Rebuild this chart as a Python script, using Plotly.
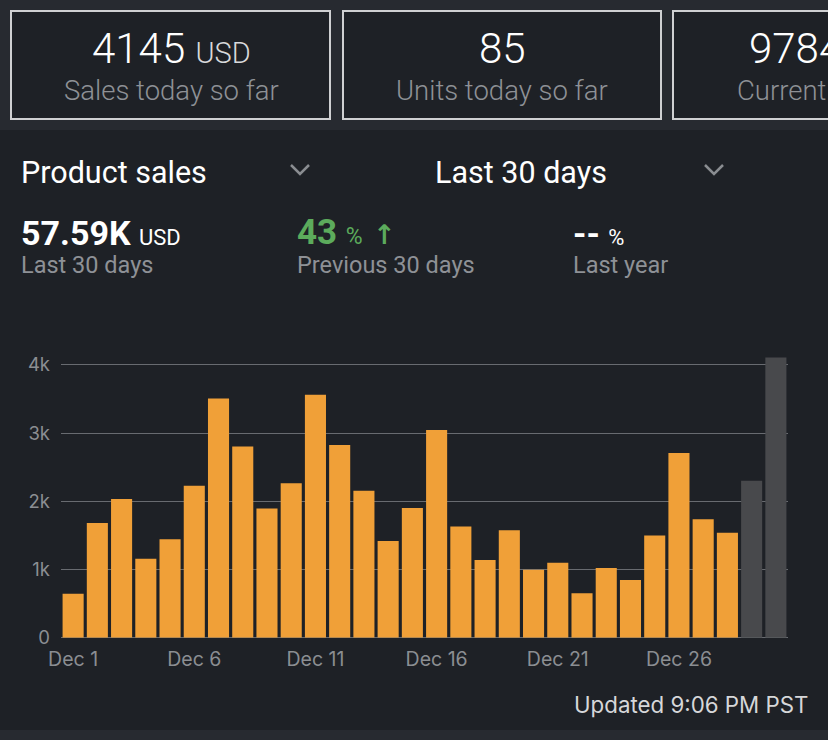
import plotly.graph_objects as go

W, H = 828, 740

days = [f"Dec {d}" for d in range(1, 31)]
sales = [645, 1681, 2033, 1158, 1442, 2229, 3509, 2805, 1896, 2263,
         3563, 2825, 2155, 1418, 1901, 3045, 1632, 1139, 1574, 997,
         1100, 650, 1021, 845, 1500, 2708, 1735, 1540, 2302, 4110]
bar_colors = ["#f0a038"] * 28 + ["#48494c"] * 2
tick_days = ["Dec 1", "Dec 6", "Dec 11", "Dec 16", "Dec 21", "Dec 26"]
y_ticks = [0, 1000, 2000, 3000, 4000]
y_ticktext = ["0", "1k", "2k", "3k", "4k"]

BG = "#1e2126"
BAND = "#272a30"
GRID = "#686b70"
TICK = "#8b8e92"
SUB = "#8e9196"
GREEN = "#5cab5c"
FONT = "Roboto"


def px(x):
    return x / W


def py(y):
    return 1 - y / H


fig = go.Figure(go.Bar(
    x=days, y=sales, marker=dict(color=bar_colors, line=dict(width=0)),
    hoverinfo="skip",
))

shapes = [
    dict(type="rect", xref="paper", yref="paper", x0=0, x1=1, y0=py(130), y1=1,
         fillcolor=BAND, line=dict(width=0), layer="below"),
    dict(type="rect", xref="paper", yref="paper", x0=0, x1=1, y0=0, y1=py(730),
         fillcolor=BAND, line=dict(width=0), layer="below"),
]
for x0, x1 in [(11, 330), (343, 661), (673, 840)]:
    shapes.append(dict(type="rect", xref="paper", yref="paper",
                       x0=px(x0), x1=px(x1), y0=py(119), y1=py(11),
                       fillcolor=BG, line=dict(color="#cfd0d2", width=2), layer="below"))
for cx in [300, 714]:
    shapes.append(dict(type="path", xref="paper", yref="paper",
                       path=f"M {px(cx-9)} {py(165)} L {px(cx)} {py(174)} L {px(cx+9)} {py(165)}",
                       line=dict(color="#8a8d91", width=2.5)))


def ann(text, x, y, size, color, xanchor="left", weight=None, family=FONT):
    f = dict(size=size, color=color, family=family)
    if weight:
        f["weight"] = weight
    return dict(text=text, x=px(x), y=py(y), xref="paper", yref="paper",
                xanchor=xanchor, yanchor="middle", showarrow=False, font=f)


annotations = [
    ann("4145 <span style='font-size:29px;color:#d8d9db'>USD</span>", 171, 48, 42, "#ffffff", "center", 300),
    ann("Sales today so far", 171, 91, 27.5, SUB, "center", 300),
    ann("85", 502, 48, 42, "#ffffff", "center", 300),
    ann("Units today so far", 502, 91, 27.5, SUB, "center", 300),
    ann("9784", 747, 48, 42, "#ffffff", "left", 300),
    ann("Current", 735, 91, 27.5, SUB, "left", 300),
    ann("Product sales", 19, 172, 30.5, "#ffffff"),
    ann("Last 30 days", 433, 172, 30.5, "#ffffff"),
    ann("<b>57.59K</b> <span style='font-size:22px'>USD</span>", 19, 233, 34, "#ffffff"),
    ann("Last 30 days", 19, 265, 23.5, SUB),
    ann("<b>43</b> <span style='font-size:23px'>%</span>", 295, 232, 35, GREEN),
    ann("↑", 371, 234, 27, GREEN, family="DejaVu Sans", weight="bold"),
    ann("Previous 30 days", 295, 265, 23.5, SUB),
    ann("<b>--</b> <span style='font-size:22px'>%</span>", 571, 233, 34, "#ffffff"),
    ann("Last year", 571, 265, 23.5, SUB),
    ann("Updated 9:06 PM PST", 810, 704, 22.3, "#d6d7d9", "right", family="Inter"),
]

y_top = 4200
fig.update_layout(
    width=W, height=H, margin=dict(l=0, r=0, t=0, b=0, autoexpand=False),
    paper_bgcolor=BG, plot_bgcolor=BG, showlegend=False,
    bargap=0.13,
    shapes=shapes, annotations=annotations,
    xaxis=dict(domain=[px(61), px(788)], tickmode="array", tickvals=tick_days,
               ticktext=tick_days, showgrid=False, showline=False, ticks="",
               tickfont=dict(size=19.5, color=TICK, family="Inter"),
               ticklabelstandoff=8, fixedrange=True, automargin=False),
    yaxis=dict(domain=[py(637.7), py(637.7 - 4.2 * 68.2)], range=[0, y_top],
               tickmode="array", tickvals=y_ticks, ticktext=y_ticktext,
               showgrid=True, gridcolor=GRID, gridwidth=1,
               zeroline=True, zerolinecolor=GRID, zerolinewidth=1.2,
               ticks="", tickfont=dict(size=18.5, color=TICK, family="Inter"),
               ticklabelstandoff=10, fixedrange=True, automargin=False),
)

fig.write_html(
    "out.html",
    config={"displayModeBar": False},
    post_script="document.body.style.margin='0';document.body.style.overflow='hidden';",
)
